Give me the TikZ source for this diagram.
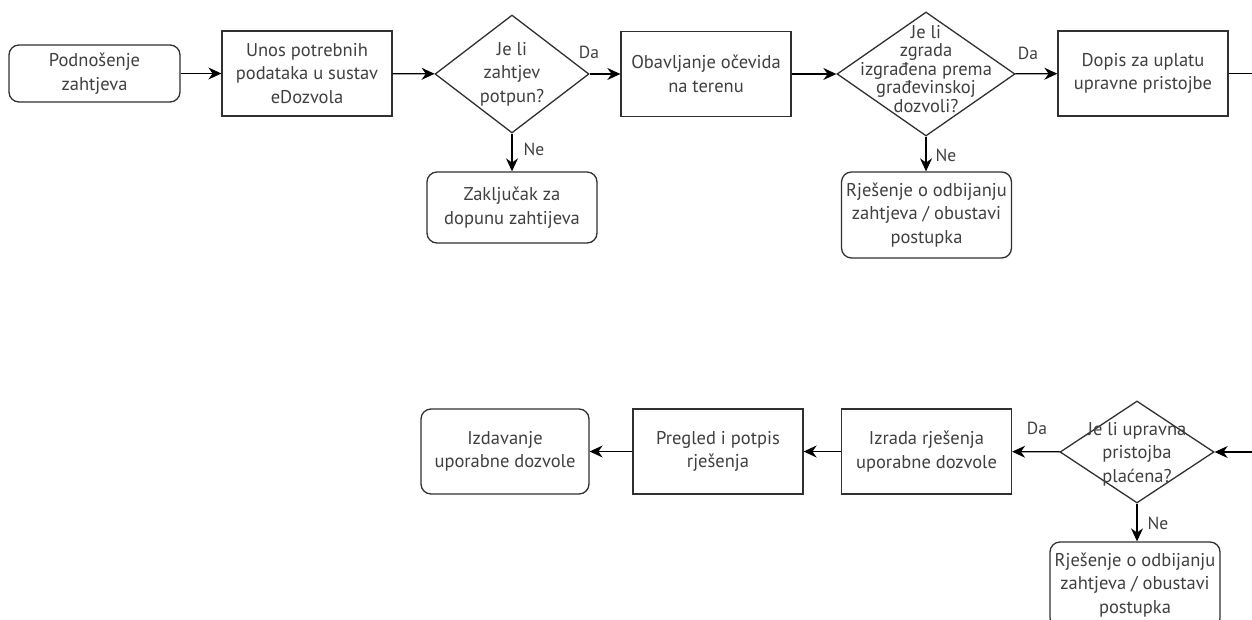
\documentclass[tikz,border=0pt]{standalone}
\usepackage{fontspec}
\setmainfont{PT Sans}
\usetikzlibrary{shapes.geometric,arrows.meta}
\definecolor{txtc}{HTML}{404040}
\definecolor{linec}{HTML}{303030}
\tikzset{
  box/.style={draw=linec, line width=1.3pt, rectangle, minimum width=170pt, minimum height=85pt,
    align=center, inner sep=2pt, text=txtc, font=\fontsize{18.5}{23.5}\selectfont},
  rbox/.style={box, rounded corners=10pt},
  dia/.style={draw=linec, line width=1.3pt, diamond, inner sep=0pt},
  dtext/.style={align=center, text=txtc, inner sep=0pt, font=\fontsize{18.5}{23.5}\selectfont},
  lbl/.style={text=txtc, inner sep=0pt, font=\fontsize{17.5}{20}\selectfont},
  arr/.style={draw=black, line width=1.3pt, -{Stealth[length=13pt,width=12pt]}},
  ln/.style={draw=black, line width=1.3pt}
}
\begin{document}
\begin{tikzpicture}[x=1pt,y=-1pt]
\useasboundingbox[fill=white] (0,0) rectangle (1252,620);
% top row
\node[rbox, minimum width=171pt, minimum height=57pt] (pod) at (94.5,73.5) {Podnošenje\\zahtjeva};
\node[box] (unos) at (307,73.5) {Unos potrebnih\\podataka u sustav\\eDozvola};
\node[dia, minimum width=154pt, minimum height=118pt] (d1) at (512,74) {};
\node[dtext] (d1t) at (d1) {Je li\\zahtjev\\potpun?};
\node[box] (obav) at (706,74) {Obavljanje očevida\\na terenu};
\node[dia, minimum width=178pt, minimum height=124pt] (d2) at (926,74) {};
\node[dtext, font=\fontsize{18.5}{18.5}\selectfont] (d2t) at (926,69) {Je li\\zgrada\\izgrađena prema\\građevinskoj\\dozvoli?};
\node[box] (dopis) at (1143,73.5) {Dopis za uplatu\\upravne pristojbe};
\coordinate (edge1) at (1252,73.5);
% below top row
\node[rbox, minimum height=71pt] (zak) at (512,207.5) {Zaključak za\\dopunu zahtijeva};
\node[rbox, minimum height=86pt] (rj1) at (926.5,215) {Rješenje o odbijanju\\zahtjeva / obustavi\\postupka};
% bottom row
\coordinate (edge2) at (1252,452);
\node[dia, minimum width=154pt, minimum height=102pt] (d3) at (1137,452) {};
\node[dtext] (d3t) at (1137,454) {Je li upravna\\pristojba\\plaćena?};
\node[box] (izr) at (926.5,451.5) {Izrada rješenja\\uporabne dozvole};
\node[box] (preg) at (718,451.5) {Pregled i potpis\\rješenja};
\node[rbox, minimum width=168pt] (izd) at (505,451.5) {Izdavanje\\uporabne dozvole};
\node[rbox, minimum height=86pt] (rj2) at (1135,585) {Rješenje o odbijanju\\zahtjeva / obustavi\\postupka};
% connectors
\draw[arr] (pod) -- (unos);
\draw[arr] (unos) -- (d1);
\draw[arr] (d1) -- (obav);
\draw[arr] (obav) -- (d2);
\draw[arr] (d2) -- (dopis);
\draw[ln] (dopis.east) -- (edge1);
\draw[arr] (d1.south) -- (zak.north);
\draw[arr] (d2.south) -- (rj1.north -| d2.south);
\draw[arr] (edge2) -- (d3.east);
\draw[arr] (d3) -- (izr);
\draw[arr] (izr) -- (preg);
\draw[arr] (preg) -- (izd);
\draw[arr] (d3.south) -- (rj2.north -| d3.south);
% labels
\node[lbl] (da1) at (589,52) {Da};
\node[lbl] (da2) at (1028,53) {Da};
\node[lbl] (da3) at (1037,428) {Da};
\node[lbl] (ne1) at (534,149) {Ne};
\node[lbl] (ne2) at (946,155) {Ne};
\node[lbl] (ne3) at (1158,523) {Ne};
\end{tikzpicture}
\end{document}
